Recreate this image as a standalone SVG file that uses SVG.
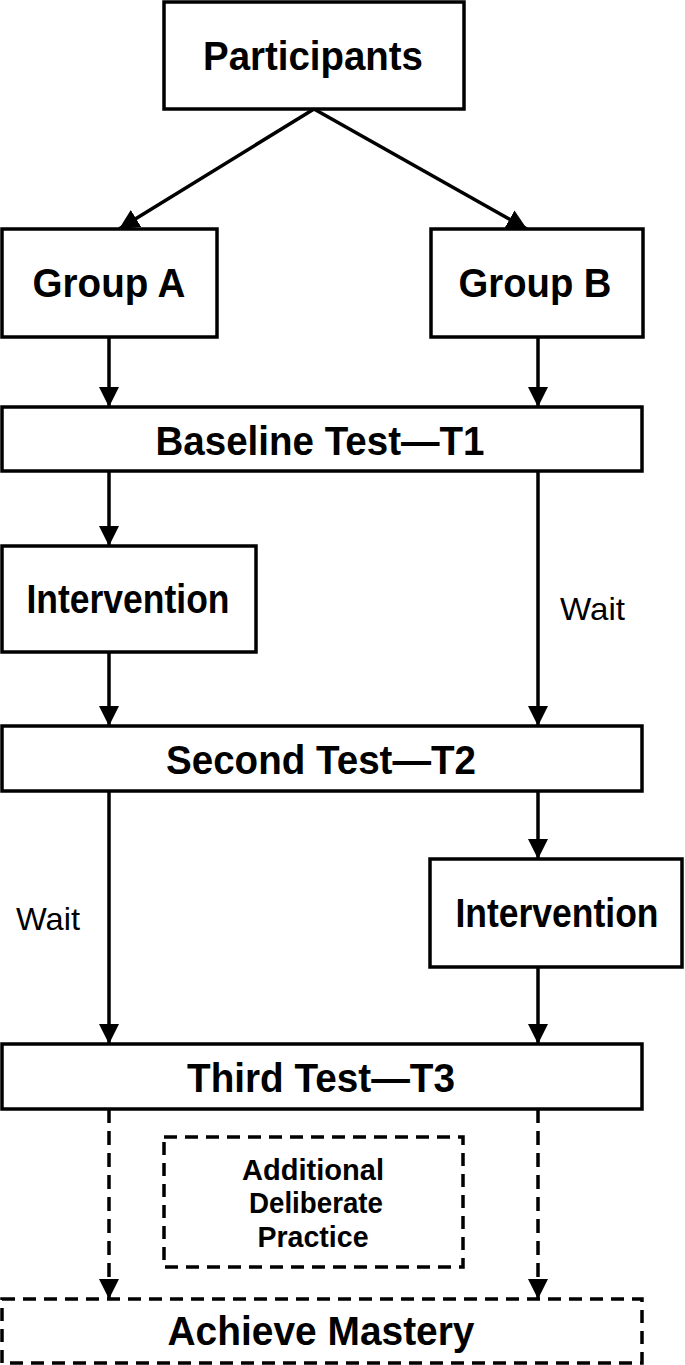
<svg xmlns="http://www.w3.org/2000/svg" width="685" height="1365" viewBox="0 0 685 1365">
<defs>
<style>
.box{fill:#fff;stroke:#000;stroke-width:3.5}
.dbox{fill:#fff;stroke:#000;stroke-width:3.5;stroke-dasharray:13 8}
.lbl{font-family:"Liberation Sans",Arial,sans-serif;font-weight:bold;font-size:41px;text-anchor:middle;fill:#000}
.sm{font-family:"Liberation Sans",Arial,sans-serif;font-weight:bold;font-size:30px;text-anchor:middle;fill:#000}
.wait{font-family:"Liberation Sans",Arial,sans-serif;font-size:32px;fill:#000}
.ln{stroke:#000;stroke-width:3.5;fill:none;marker-end:url(#ah)}
.dl{stroke:#000;stroke-width:3.5;fill:none;stroke-dasharray:14 8;marker-end:url(#ah)}
</style>
<marker id="ah" viewBox="0 0 20 20" refX="20" refY="10" markerUnits="userSpaceOnUse" markerWidth="20" markerHeight="20" orient="auto">
<path d="M0,0 L20,10 L0,20 Z" fill="#000"/>
</marker>
</defs>
<rect width="685" height="1365" fill="#fff"/>
<g id="connectors">
<line class="ln" x1="314" y1="109" x2="119" y2="229"/>
<line class="ln" x1="314" y1="109" x2="527" y2="229"/>
<line class="ln" x1="109" y1="337" x2="109" y2="407"/>
<line class="ln" x1="538" y1="337" x2="538" y2="407"/>
<line class="ln" x1="109" y1="471" x2="109" y2="546"/>
<line class="ln" x1="538" y1="471" x2="538" y2="726"/>
<line class="ln" x1="109" y1="652" x2="109" y2="726"/>
<line class="ln" x1="109" y1="791" x2="109" y2="1044"/>
<line class="ln" x1="538" y1="788" x2="538" y2="859"/>
<line class="ln" x1="538" y1="967" x2="538" y2="1044"/>
<line class="dl" x1="109" y1="1109" x2="109" y2="1299"/>
<line class="dl" x1="538" y1="1109" x2="538" y2="1299"/>
<text class="wait" x="560" y="620" textLength="65" lengthAdjust="spacingAndGlyphs">Wait</text>
<text class="wait" x="16" y="930" textLength="64" lengthAdjust="spacingAndGlyphs">Wait</text>
</g>
<g id="participants">
<rect class="box" x="164" y="2" width="300" height="107"/>
<text class="lbl" x="313" y="70" textLength="220" lengthAdjust="spacingAndGlyphs">Participants</text>
</g>
<g id="groupA">
<rect class="box" x="2" y="229" width="215" height="108"/>
<text class="lbl" x="109" y="297" textLength="153" lengthAdjust="spacingAndGlyphs">Group A</text>
</g>
<g id="groupB">
<rect class="box" x="431" y="229" width="212" height="108"/>
<text class="lbl" x="535" y="297" textLength="153" lengthAdjust="spacingAndGlyphs">Group B</text>
</g>
<g id="baseline">
<rect class="box" x="2" y="407" width="640" height="64"/>
<text class="lbl" x="320" y="455" textLength="329" lengthAdjust="spacingAndGlyphs">Baseline Test—T1</text>
</g>
<g id="interventionA">
<rect class="box" x="2" y="546" width="254" height="106"/>
<text class="lbl" x="128" y="613" textLength="203" lengthAdjust="spacingAndGlyphs">Intervention</text>
</g>
<g id="second">
<rect class="box" x="2" y="726" width="640" height="65"/>
<text class="lbl" x="321" y="774" textLength="310" lengthAdjust="spacingAndGlyphs">Second Test—T2</text>
</g>
<g id="interventionB">
<rect class="box" x="430" y="859" width="252" height="108"/>
<text class="lbl" x="557" y="927" textLength="203" lengthAdjust="spacingAndGlyphs">Intervention</text>
</g>
<g id="third">
<rect class="box" x="2" y="1044" width="640" height="65"/>
<text class="lbl" x="321" y="1092" textLength="268" lengthAdjust="spacingAndGlyphs">Third Test—T3</text>
</g>
<g id="practice">
<rect class="dbox" x="164" y="1137" width="299" height="130"/>
<text class="sm" x="313" y="1180" textLength="142" lengthAdjust="spacingAndGlyphs">Additional</text>
<text class="sm" x="316" y="1213" textLength="134" lengthAdjust="spacingAndGlyphs">Deliberate</text>
<text class="sm" x="313" y="1247" textLength="111" lengthAdjust="spacingAndGlyphs">Practice</text>
</g>
<g id="mastery">
<rect class="dbox" x="2" y="1299" width="640" height="64"/>
<text class="lbl" x="321" y="1345" textLength="307" lengthAdjust="spacingAndGlyphs">Achieve Mastery</text>
</g>
</svg>
